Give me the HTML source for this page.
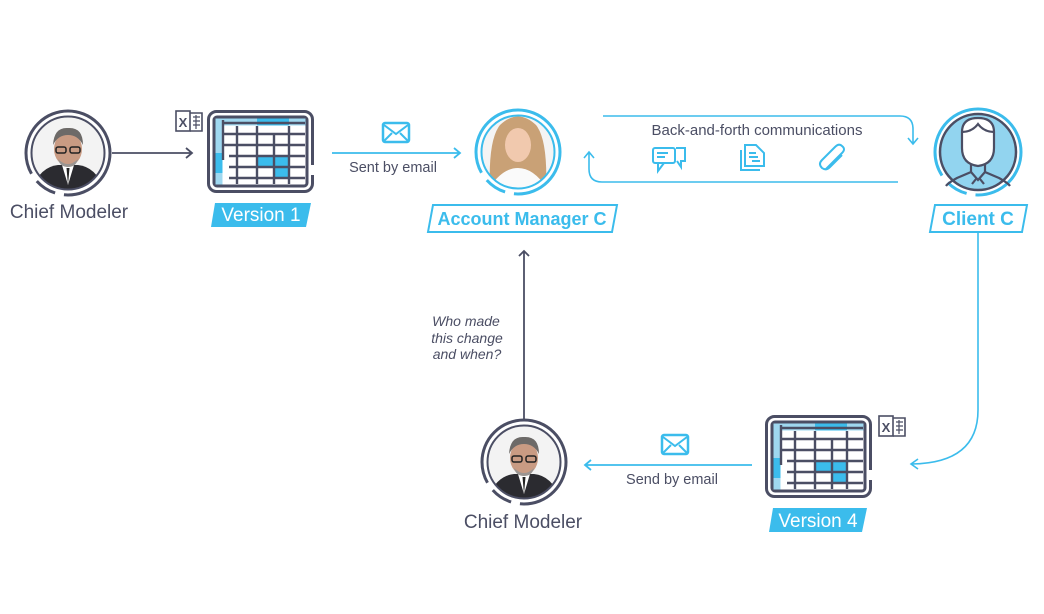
<!DOCTYPE html>
<html><head><meta charset="utf-8"><style>
html,body{margin:0;padding:0;background:#fff;}
svg{display:block;font-family:"Liberation Sans",sans-serif;}
</style></head><body>
<svg width="1044" height="614" viewBox="0 0 1044 614" xmlns="http://www.w3.org/2000/svg">
<defs>
<g id="sheet">
  <rect x="1.5" y="1.5" width="104" height="80" rx="8" fill="#fff" stroke="#4b4e64" stroke-width="3"/>
  <rect x="7" y="7" width="93" height="69" rx="3" fill="#fff" stroke="#4b4e64" stroke-width="3"/>
  <rect x="8.5" y="8.5" width="90" height="7" fill="#9fd8f0"/>
  <rect x="50" y="8.5" width="32" height="7" fill="#3bbcec"/>
  <rect x="8.5" y="8.5" width="7" height="66" fill="#9fd8f0"/>
  <rect x="8.5" y="43" width="7" height="20" fill="#3bbcec"/>
  <rect x="50" y="46" width="17" height="11" fill="#3bbcec"/>
  <rect x="67" y="46" width="15" height="22" fill="#3bbcec"/>
  <g stroke="#4b4e64" stroke-width="2.4" fill="none">
    <path d="M16 13 H98 M16 24 H98 M16 35 H98 M22 46 H98 M22 57 H98 M22 68 H98"/>
    <path d="M16 10 V50 M30 16 V74 M50 16 V74 M67 24 V74 M82 16 V74"/>
  </g>
  <path d="M105 55 V65" stroke="#fff" stroke-width="4"/>
</g>
<g id="xl">
  <rect x="1" y="3" width="14" height="20" fill="#fff" stroke="#4b4e64" stroke-width="1.6"/>
  <text x="8" y="19" font-size="13" font-weight="bold" fill="#4b4e64" text-anchor="middle">X</text>
  <path d="M15 5 H27 V23 H15" fill="none" stroke="#4b4e64" stroke-width="1.6"/>
  <path d="M18 9 H25 M18 13 H25 M18 17 H25 M21 7 V21" stroke="#4b4e64" stroke-width="1.2"/>
</g>
<g id="env">
  <rect x="1" y="1" width="26" height="19" rx="2" fill="none" stroke="#3bbcec" stroke-width="2.5"/>
  <path d="M2 3 L14 12 L26 3 M2 19 L10 11 M26 19 L18 11" fill="none" stroke="#3bbcec" stroke-width="2"/>
</g>
<clipPath id="c1"><circle cx="68" cy="153" r="36"/></clipPath>
<clipPath id="c2"><circle cx="518" cy="152" r="36"/></clipPath>
<clipPath id="c3"><circle cx="524" cy="462" r="36"/></clipPath>
<g id="man">
  <rect x="-40" y="-40" width="80" height="80" fill="#f3f3f3"/>
  <path d="M-38 40 Q-30 12 -10 10 L10 10 Q30 12 38 40 Z" fill="#2b2b30"/>
  <path d="M-6 10 L0 30 L6 10 Z" fill="#fff"/>
  <path d="M-1.5 13 L0 30 L1.5 13 Z" fill="#222"/>
  <ellipse cx="0" cy="-6" rx="14" ry="17" fill="#c99b83"/>
  <path d="M-15 -10 Q-14 -28 0 -27 Q15 -28 15 -10 Q10 -20 0 -20 Q-10 -20 -15 -10Z" fill="#6d6a68"/>
  <path d="M-10 4 Q0 14 10 4 Q8 12 0 12 Q-8 12 -10 4Z" fill="#9a9592"/>
  <rect x="-12" y="-8" width="10" height="6" rx="2" fill="none" stroke="#222" stroke-width="1.5"/>
  <rect x="2" y="-8" width="10" height="6" rx="2" fill="none" stroke="#222" stroke-width="1.5"/>
</g>
</defs>

<circle cx="68" cy="153" r="42" fill="none" stroke="#4b4e64" stroke-width="3" stroke-dasharray="70 9 22 9 154"/>
<g clip-path="url(#c1)"><use href="#man" transform="translate(68,155)"/></g>
<circle cx="68" cy="153" r="36.5" fill="none" stroke="#4b4e64" stroke-width="2"/>
<text x="69" y="218" font-size="19" fill="#4b4e64" text-anchor="middle">Chief Modeler</text>
<path d="M112 153 H192 M186 148 L192 153 L186 158" fill="none" stroke="#4b4e64" stroke-width="1.8"/>

<use href="#xl" transform="translate(175,108)"/>
<use href="#sheet" transform="translate(207,110)"/>
<path d="M215 203 H311 L306 227 H211 Z" fill="#3bbcec"/>
<text x="261" y="221" font-size="19" fill="#fff" text-anchor="middle">Version 1</text>

<use href="#env" transform="translate(382,122)"/>
<path d="M332 153 H460 M454 148 L460 153 L454 158" fill="none" stroke="#3bbcec" stroke-width="1.8"/>
<text x="393" y="172" font-size="14.5" fill="#4b4e64" text-anchor="middle">Sent by email</text>

<circle cx="518" cy="152" r="42" fill="none" stroke="#3bbcec" stroke-width="3" stroke-dasharray="70 9 22 9 154"/>
<g clip-path="url(#c2)">
  <rect x="470" y="105" width="100" height="100" fill="#f4f4f4"/>
  <path d="M490 190 Q488 140 500 125 Q518 108 536 125 Q548 140 546 190 Z" fill="#c9a176"/>
  <ellipse cx="518" cy="145" rx="13" ry="17" fill="#f1c9ae"/>
  <path d="M485 195 Q500 168 518 168 Q536 168 551 195Z" fill="#fafafa"/>
</g>
<circle cx="518" cy="152" r="36.5" fill="none" stroke="#3bbcec" stroke-width="2"/>
<path d="M433 205 H617 L612 232 H428 Z" fill="#fff" stroke="#3bbcec" stroke-width="2"/>
<text x="522" y="225" font-size="18" font-weight="bold" fill="#3bbcec" text-anchor="middle">Account Manager C</text>

<path d="M603 116 H900 Q913 116 913 129 V143 M908 138 L913 144 L918 138" fill="none" stroke="#3bbcec" stroke-width="1.6"/>
<path d="M898 182 H602 Q589 182 589 169 V153 M584 158 L589 152 L594 158" fill="none" stroke="#3bbcec" stroke-width="1.6"/>
<text x="757" y="135" font-size="15" fill="#4b4e64" text-anchor="middle">Back-and-forth communications</text>
<g fill="none" stroke="#3bbcec" stroke-width="2">
  <rect x="653" y="148" width="22" height="15" rx="2"/>
  <path d="M658 163 V171 L664 163"/>
  <path d="M657 153 H668 M657 157 H665"/>
  <path d="M676 148 H685 V161 H681 V167 L677 161"/>
  <path d="M741 150 V170 H760 M745 145 H756 L764 153 V166 H745 Z"/>
  <path d="M749 153 H756 M749 157 H758 M752 161 H760"/>
  <path d="M826 169 L842 153 Q846 149 842 146 Q839 143 835 147 L822 160 Q818 164 822 168 Q826 171 830 167 L842 155"/>
</g>

<circle cx="978" cy="152" r="43" fill="none" stroke="#3bbcec" stroke-width="3" stroke-dasharray="70 9 22 9 160"/>
<circle cx="978" cy="152" r="38" fill="#92d4ef" stroke="#4b4e64" stroke-width="2.5"/>
<g fill="none" stroke="#4b4e64" stroke-width="2.2">
  <path d="M962 132 Q962 118 978 118 Q994 118 994 132 V148 Q994 164 978 166 Q962 164 962 148 Z" fill="#fff"/>
  <path d="M962 132 Q972 132 978 124 Q984 132 994 132"/>
  <path d="M971 164 V172 L957 178 Q948 183 946 186 M985 164 V172 L999 178 Q1008 183 1010 186"/>
  <path d="M971 172 L978 180 L985 172 M976 179 L972 184 M980 179 L984 184"/>
</g>
<path d="M935 205 H1027 L1022 232 H930 Z" fill="#fff" stroke="#3bbcec" stroke-width="2"/>
<text x="978" y="225" font-size="19" font-weight="bold" fill="#3bbcec" text-anchor="middle">Client C</text>
<path d="M978 232 V410 Q978 463 912 464 M918 459 L911 464 L918 469" fill="none" stroke="#3bbcec" stroke-width="1.6"/>

<use href="#sheet" transform="translate(765,415)"/>
<use href="#xl" transform="translate(878,413)"/>
<path d="M773 508 H867 L862 532 H769 Z" fill="#3bbcec"/>
<text x="818" y="527" font-size="19" fill="#fff" text-anchor="middle">Version 4</text>

<use href="#env" transform="translate(661,434)"/>
<path d="M752 465 H585 M591 460 L585 465 L591 470" fill="none" stroke="#3bbcec" stroke-width="1.8"/>
<text x="672" y="484" font-size="14.5" fill="#4b4e64" text-anchor="middle">Send by email</text>

<circle cx="524" cy="462" r="42" fill="none" stroke="#4b4e64" stroke-width="3" stroke-dasharray="70 9 22 9 154"/>
<g clip-path="url(#c3)"><use href="#man" transform="translate(524,464)"/></g>
<circle cx="524" cy="462" r="36.5" fill="none" stroke="#4b4e64" stroke-width="2"/>
<text x="523" y="528" font-size="19" fill="#4b4e64" text-anchor="middle">Chief Modeler</text>

<path d="M524 420 V251 M519 256 L524 251 L529 256" fill="none" stroke="#4b4e64" stroke-width="1.8"/>
<g font-size="14" font-style="italic" fill="#4b4e64" text-anchor="middle">
<text x="466" y="326">Who made</text>
<text x="467" y="343">this change</text>
<text x="467" y="359">and when?</text>
</g>
</svg>
</body></html>
